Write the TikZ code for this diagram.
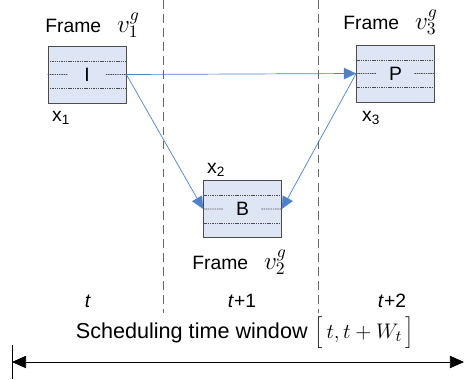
\documentclass[tikz,border=0pt]{standalone}
\usepackage[no-math]{fontspec}
\setmainfont{Liberation Sans}
\usetikzlibrary{calc,arrows.meta,positioning}
\definecolor{framefill}{RGB}{222,230,245}
\definecolor{linkblue}{RGB}{79,129,200}
\newcommand{\frmname}[1]{Frame\hspace{9pt}{\fontsize{14}{16}\selectfont$v_{#1}^{g}$}}

\begin{document}
\begin{tikzpicture}[x=0.02cm,y=-0.02cm,font=\fontsize{11}{13}\selectfont,
        frmbox/.style={draw=black!70,fill=framefill,minimum width=1.56cm,
            minimum height=1.14cm,inner sep=0pt},
        frmlabel/.style={anchor=west,inner sep=0pt},
        slotlabel/.style={inner sep=0pt},
        slot/.style={draw=black!60,dash pattern=on 5pt off 3pt},
        rowline/.style={black!70,line width=0.5pt,dash pattern=on 0.8pt off 0.5pt},
        link/.style={linkblue,-{Triangle[length=7pt,width=6.5pt]}}]
        \useasboundingbox (0,0) rectangle (465,379);

        % slot borders
        \foreach \s/\x in {s1/163, s2/318}
        {
            \coordinate (\s top) at (\x,0);
            \coordinate (\s bot) at (\x,313);
            \draw[slot] (\s top) -- (\s bot);
        };

        % frames
        \node[frmbox] (I) at (87,74.5) {I};
        \node[frmbox] (B) at (242.5,209) {B};
        \node[frmbox] (P) at (395.5,73.5) {P};

        \foreach \b in {I,B,P}
        {
            \draw[rowline] ($(\b.north west)!0.27!(\b.south west)$) -- ($(\b.north east)!0.27!(\b.south east)$);
            \draw[rowline] ($(\b.north west)!0.75!(\b.south west)$) -- ($(\b.north east)!0.75!(\b.south east)$);
            \draw[rowline] (\b.west) -- ($(\b.west)!0.26!(\b.east)$);
            \draw[rowline] ($(\b.west)!0.74!(\b.east)$) -- (\b.east);
        };

        \node[frmlabel] (fI) at (45,25) {\frmname{1}};
        \node[frmlabel] (fB) at (192,262) {\frmname{2}};
        \node[frmlabel] (fP) at (343,22) {\frmname{3}};

        \node[anchor=west] (x1) at (46,118) {x\textsubscript{1}};
        \node[anchor=west] (x2) at (201,170) {x\textsubscript{2}};
        \node[anchor=west] (x3) at (356,118) {x\textsubscript{3}};

        % references between frames
        \draw[link] (I.east) -- (P.west);
        \draw[link] (I.east) -- (B.west);
        \draw[link] (P.west) -- (B.east);

        % time axis
        \node[slotlabel] (t0) at (88,301) {\textit{t}};
        \node[slotlabel] (t1) at (242,301) {\textit{t}+1};
        \node[slotlabel] (t2) at (392,301) {\textit{t}+2};
        \node[font=\fontsize{12.3}{14}\selectfont,inner sep=0pt] (win) at (245,333)
            {Scheduling time window\hspace{4pt}$\Bigl[\,t,t+W_{t}\,\Bigr]$};

        \coordinate (wl) at (12,362);
        \coordinate (wr) at (464,362);
        \draw[{Triangle[length=8pt,width=7pt]}-{Triangle[length=8pt,width=7pt]}] (wl) -- (wr);
        \draw (12,345) -- (12,379);
\end{tikzpicture}
\end{document}
